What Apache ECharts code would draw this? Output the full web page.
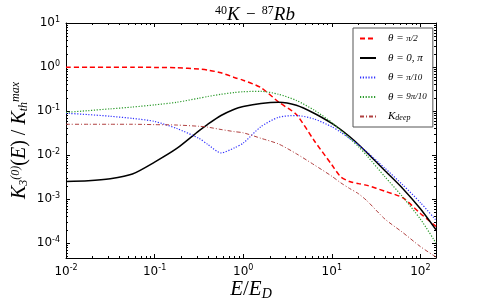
<!DOCTYPE html>
<html>
<head>
<meta charset="utf-8">
<script src="https://cdn.jsdelivr.net/npm/echarts@6/dist/echarts.min.js"></script>
<style>html,body{margin:0;padding:0;background:#fff}#c{width:491px;height:302px}</style>
</head>
<body>
<div id="c"></div>
<script>
// Energy grid E/E_D
const E = [0.01, 0.0178, 0.0316, 0.0562, 0.1, 0.178, 0.316, 0.398, 0.562, 0.794, 1, 1.585, 2.51, 3.98, 6.31, 10, 12.6, 15.85, 20.0, 25.1, 39.8, 63.1, 100, 150];
// theta = pi/2
const kPi2 = [0.99, 0.99, 0.99, 0.99, 0.98, 0.96, 0.90, 0.85, 0.74, 0.58, 0.50, 0.34, 0.16, 0.083, 0.0214, 0.006, 0.0032, 0.0025, 0.00224, 0.00204, 0.0015, 0.00107, 0.00047, 0.00024];
// theta = 0, pi
const k0 = [0.0025, 0.0026, 0.0029, 0.0037, 0.0069, 0.0141, 0.0355, 0.050, 0.079, 0.11, 0.126, 0.148, 0.158, 0.135, 0.089, 0.0525, 0.038, 0.0263, 0.0174, 0.0112, 0.0044, 0.00174, 0.0006, 0.0002];
// theta = pi/10
const kPi10 = [0.089, 0.083, 0.076, 0.068, 0.058, 0.040, 0.024, 0.0174, 0.0112, 0.0145, 0.0186, 0.044, 0.072, 0.079, 0.066, 0.044, 0.033, 0.024, 0.017, 0.0115, 0.005, 0.0021, 0.00083, 0.00033];
// theta = 9pi/10
const k9Pi10 = [0.093, 0.102, 0.112, 0.123, 0.138, 0.158, 0.195, 0.214, 0.24, 0.263, 0.275, 0.28, 0.24, 0.174, 0.105, 0.055, 0.036, 0.024, 0.0155, 0.0095, 0.0032, 0.00112, 0.00035, 0.0001];
// K_deep
const kDeep = [0.05, 0.05, 0.05, 0.05, 0.049, 0.048, 0.045, 0.043, 0.038, 0.034, 0.032, 0.024, 0.0178, 0.0107, 0.006, 0.0033, 0.00234, 0.00174, 0.00132, 0.0009, 0.00035, 0.000174, 0.000083, 0.000048];

const names = ['pi2', 'zero', 'pi10', 'ninepi10', 'deep'];
const labels = {
  pi2: '{t|θ = }{f|π/2}',
  zero: '{t|θ = 0, π}',
  pi10: '{t|θ = }{f|π/10}',
  ninepi10: '{t|θ = }{f|9π/10}',
  deep: '{t|K}{s|deep}'
};

const pts = arr => E.map((e, i) => [e, arr[i]]);
const serif = 'Liberation Serif';
const sans = 'DejaVu Sans';

const chart = echarts.init(document.getElementById('c'), null, {renderer: 'canvas'});

const expFmt = v => {
  const p = Math.round(Math.log10(v));
  if (Math.abs(Math.log10(v) - p) > 1e-6) return '';
  return '{b|10}{s|' + p + '}';
};
const labelRich = {
  b: {fontFamily: sans, fontSize: 12, color: '#000'},
  s: {fontFamily: sans, fontSize: 8, color: '#000', verticalAlign: 'top', padding: [0, 0, 7, 0]}
};

const commonAxis = {
  axisLine: {show: true, lineStyle: {color: '#000', width: 1}},
  axisTick: {show: true, inside: true, length: 4, lineStyle: {color: '#000'}},
  minorTick: {show: true, splitNumber: 9, length: 2, lineStyle: {color: '#000'}},
  splitLine: {show: false},
  minorSplitLine: {show: false}
};

const mkLine = (name, data, color, type, width) => ({
  name, type: 'line', data: pts(data), showSymbol: false, symbol: 'none',
  smooth: 0.25, xAxisIndex: 0, yAxisIndex: 0,
  lineStyle: {color, type, width}, itemStyle: {color}
});

chart.setOption({
  animation: false,
  backgroundColor: '#fff',
  title: {
    text: '{s|40}{i|K}{m| − }{s|87}{i|Rb}',
    left: 250, top: 0, textAlign: 'center',
    textStyle: {
      fontWeight: 'normal',
      rich: {
        i: {fontFamily: serif, fontStyle: 'italic', fontWeight: 'normal', fontSize: 19, color: '#000'},
        m: {fontFamily: serif, fontWeight: 'normal', fontSize: 17, color: '#000', padding: [0, 2, 0, 2]},
        s: {fontFamily: serif, fontWeight: 'normal', fontSize: 12, color: '#000', verticalAlign: 'top'}
      },
      fontFamily: serif, fontSize: 18, color: '#000'
    }
  },
  grid: {left: 66, right: 55, top: 23, bottom: 44, containLabel: false, outerBoundsMode: 'none'},
  legend: {
    orient: 'vertical', left: 353, top: 28,
    padding: [5, 6, 5, 6], itemGap: 8.5, itemWidth: 16, itemHeight: 11,
    backgroundColor: '#fff', borderColor: '#555', borderWidth: 1, borderRadius: 0,
    data: names,
    itemStyle: {opacity: 0},
    formatter: n => labels[n],
    textStyle: {
      fontFamily: serif, fontSize: 11, color: '#000', padding: [0, 0, 0, 7],
      rich: {
        t: {fontFamily: serif, fontStyle: 'italic', fontSize: 11, color: '#000'},
        f: {fontFamily: serif, fontStyle: 'italic', fontSize: 9, color: '#000'},
        s: {fontFamily: serif, fontStyle: 'italic', fontSize: 8, color: '#000', verticalAlign: 'bottom'}
      }
    }
  },
  xAxis: [
    Object.assign({
      type: 'log', logBase: 10, min: 0.01, max: 150, position: 'bottom',
      name: '{i|E}{n|/}{i|E}{s|D}', nameLocation: 'middle', nameGap: 20, nameMoveOverlap: false,
      nameTextStyle: {
        rich: {
          i: {fontFamily: serif, fontStyle: 'italic', fontSize: 21, color: '#000'},
          n: {fontFamily: serif, fontSize: 21, color: '#000'},
          s: {fontFamily: serif, fontStyle: 'italic', fontSize: 14, color: '#000', verticalAlign: 'bottom', padding: [9, 0, 0, 0]}
        }
      },
      axisLabel: {show: true, margin: 6, formatter: expFmt, rich: labelRich, showMaxLabel: false}
    }, commonAxis),
    Object.assign({
      type: 'log', logBase: 10, min: 0.01, max: 150, position: 'top',
      axisLabel: {show: false}
    }, commonAxis)
  ],
  yAxis: [
    Object.assign({
      type: 'log', logBase: 10, min: 4.57e-5, max: 10, position: 'left',
      name: '{i|K}{s|3}{p|(0)}{n|(}{i|E}{n|) / }{i|K}{s|th}{p|max}',
      nameLocation: 'middle', nameRotate: 90, nameGap: 36, nameMoveOverlap: false,
      nameTextStyle: {
        rich: {
          i: {fontFamily: serif, fontStyle: 'italic', fontSize: 20, color: '#000'},
          n: {fontFamily: serif, fontSize: 20, color: '#000'},
          s: {fontFamily: serif, fontSize: 12, fontStyle: 'italic', color: '#000', verticalAlign: 'bottom'},
          p: {fontFamily: serif, fontSize: 12, fontStyle: 'italic', color: '#000', verticalAlign: 'top'}
        }
      },
      axisLabel: {show: true, margin: 6, formatter: expFmt, rich: labelRich, showMinLabel: false}
    }, commonAxis),
    Object.assign({
      type: 'log', logBase: 10, min: 4.57e-5, max: 10, position: 'right',
      axisLabel: {show: false}
    }, commonAxis)
  ],
  series: [
    mkLine('pi2', kPi2, '#ff0000', [5, 3], 1.5),
    mkLine('zero', k0, '#000000', 'solid', 1.5),
    mkLine('pi10', kPi10, '#3030ff', [1.2, 1.6], 1.2),
    mkLine('ninepi10', k9Pi10, '#2a9a2a', [1.2, 1.6], 1.2),
    mkLine('deep', kDeep, '#b04040', [4, 2, 1, 2], 1)
  ]
});
</script>
</body>
</html>
